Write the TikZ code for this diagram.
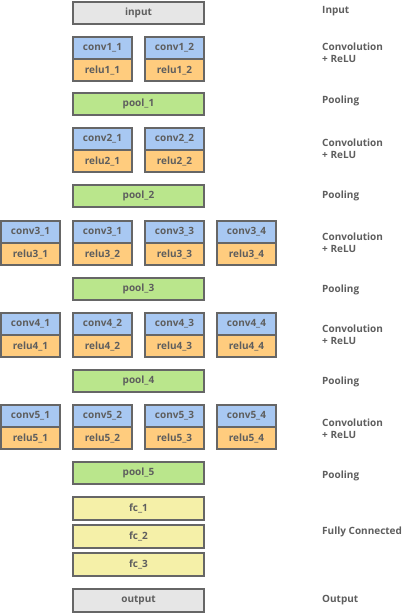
\documentclass[tikz,border=0pt]{standalone}
\usepackage{fontspec}
\setmainfont{Open Sans}
\definecolor{edge}{HTML}{666666}
\definecolor{txt}{HTML}{5E5E5E}
\definecolor{inbg}{HTML}{E6E6E6}
\definecolor{convbg}{HTML}{A8C8F2}
\definecolor{relubg}{HTML}{FFCC7E}
\definecolor{poolbg}{HTML}{BAE68C}
\definecolor{fcbg}{HTML}{F5F0A8}
\tikzset{
  box/.style={draw=edge,line width=2pt,text=txt,font=\bfseries\fontsize{10}{12}\selectfont,inner sep=0pt,anchor=center},
  small/.style={box,minimum width=59pt,minimum height=22pt},
  wide/.style={box,minimum width=131pt,minimum height=22pt},
  convbox/.style={small,fill=convbg},
  relubox/.style={small,fill=relubg},
  poolbox/.style={wide,fill=poolbg},
  fcbox/.style={wide,fill=fcbg,minimum height=23pt},
  iobox/.style={wide,fill=inbg,minimum height=22pt},
  lab/.style={anchor=west,text=txt,font=\bfseries\fontsize{10}{12}\selectfont,inner sep=0pt,align=left}
}
\begin{document}
\begin{tikzpicture}[x=1pt,y=-1pt]
\useasboundingbox (0,0) rectangle (406,614);
\fill[white] (0,0) rectangle (406,614);
% input
\node[iobox] (input) at (138.5,13) {input};
\node[lab] (linput) at (322,11) {Input};
% block 1
\node[convbox] (conv11) at (102.5,48) {conv1\_1};
\node[relubox] (relu11) at (102.5,70) {relu1\_1};
\node[convbox] (conv12) at (174.5,48) {conv1\_2};
\node[relubox] (relu12) at (174.5,70) {relu1\_2};
\node[lab] (lconv1) at (322,53) {Convolution\\+ ReLU};
\node[poolbox] (pool1) at (138.5,104) {pool\_1};
\node[lab] (lpool1) at (322,101) {Pooling};
% block 2
\node[convbox] (conv21) at (102.5,139) {conv2\_1};
\node[relubox] (relu21) at (102.5,161) {relu2\_1};
\node[convbox] (conv22) at (174.5,139) {conv2\_2};
\node[relubox] (relu22) at (174.5,161) {relu2\_2};
\node[lab] (lconv2) at (322,149) {Convolution\\+ ReLU};
\node[poolbox] (pool2) at (138.5,196) {pool\_2};
\node[lab] (lpool2) at (322,196) {Pooling};
% block 3
\node[convbox] (conv31) at (30.5,232) {conv3\_1};
\node[relubox] (relu31) at (30.5,254) {relu3\_1};
\node[convbox] (conv32) at (102.5,232) {conv3\_1};
\node[relubox] (relu32) at (102.5,254) {relu3\_2};
\node[convbox] (conv33) at (174.5,232) {conv3\_3};
\node[relubox] (relu33) at (174.5,254) {relu3\_3};
\node[convbox] (conv34) at (246.5,232) {conv3\_4};
\node[relubox] (relu34) at (246.5,254) {relu3\_4};
\node[lab] (lconv3) at (322,243) {Convolution\\+ ReLU};
\node[poolbox] (pool3) at (138.5,289) {pool\_3};
\node[lab] (lpool3) at (322,290) {Pooling};
% block 4
\node[convbox] (conv41) at (30.5,324) {conv4\_1};
\node[relubox] (relu41) at (30.5,346) {relu4\_1};
\node[convbox] (conv42) at (102.5,324) {conv4\_2};
\node[relubox] (relu42) at (102.5,346) {relu4\_2};
\node[convbox] (conv43) at (174.5,324) {conv4\_3};
\node[relubox] (relu43) at (174.5,346) {relu4\_3};
\node[convbox] (conv44) at (246.5,324) {conv4\_4};
\node[relubox] (relu44) at (246.5,346) {relu4\_4};
\node[lab] (lconv4) at (322,335) {Convolution\\+ ReLU};
\node[poolbox] (pool4) at (138.5,381) {pool\_4};
\node[lab] (lpool4) at (322,382) {Pooling};
% block 5
\node[convbox] (conv51) at (30.5,416) {conv5\_1};
\node[relubox] (relu51) at (30.5,438) {relu5\_1};
\node[convbox] (conv52) at (102.5,416) {conv5\_2};
\node[relubox] (relu52) at (102.5,438) {relu5\_2};
\node[convbox] (conv53) at (174.5,416) {conv5\_3};
\node[relubox] (relu53) at (174.5,438) {relu5\_3};
\node[convbox] (conv54) at (246.5,416) {conv5\_4};
\node[relubox] (relu54) at (246.5,438) {relu5\_4};
\node[lab] (lconv5) at (322,429) {Convolution\\+ ReLU};
\node[poolbox] (pool5) at (138.5,473) {pool\_5};
\node[lab] (lpool5) at (322,476) {Pooling};
% fully connected
\node[fcbox] (fc1) at (138.5,508.5) {fc\_1};
\node[fcbox] (fc2) at (138.5,536.5) {fc\_2};
\node[fcbox] (fc3) at (138.5,564.5) {fc\_3};
\node[lab] (lfc) at (322,532) {Fully Connected};
% output
\node[iobox,minimum height=23pt] (output) at (138.5,600.5) {output};
\node[lab] (loutput) at (322,600) {Output};
\end{tikzpicture}
\end{document}
